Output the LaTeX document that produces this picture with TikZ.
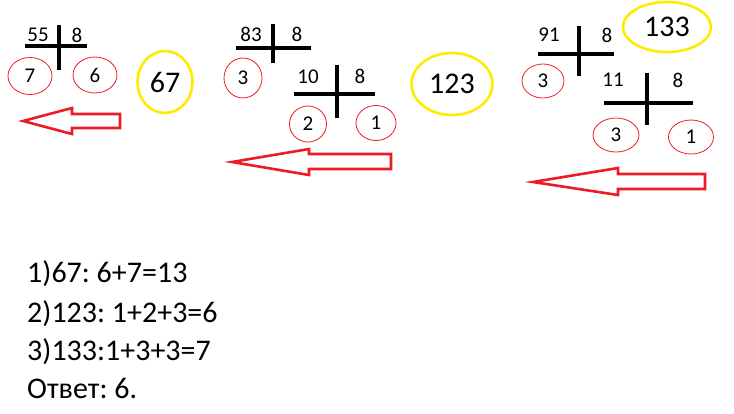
\documentclass[tikz,border=0pt]{standalone}
\usepackage{fontspec}
\setmainfont{Carlito}
\usetikzlibrary{shapes.geometric}
\definecolor{pred}{RGB}{237,28,36}
\definecolor{pyel}{RGB}{255,235,0}
\frenchspacing
\begin{document}
\begin{tikzpicture}[x=1pt,y=-1pt,
  bar/.style={line width=4pt},
  small/.style={inner sep=0pt, font=\fontsize{21}{21}\selectfont},
  rc/.style={draw=pred, line width=0.8pt, ellipse, inner sep=0pt, font=\fontsize{21}{21}\selectfont},
  yc/.style={draw=pyel, line width=2.6pt, ellipse, inner sep=0pt, font=\fontsize{30}{30}\selectfont},
  arr/.style={draw=pred, line width=2.6pt, line join=miter},
  line/.style={anchor=base west, inner sep=0pt, font=\fontsize{30}{30}\selectfont}]
\useasboundingbox (0,0) rectangle (734,413);
% group 1
\node[small] (a55) at (38,35) {55};
\node[small] (a8) at (77,35) {8};
\draw[bar] (25,46) -- (87,46);
\draw[bar] (59,25) -- (59,70);
\node[rc, minimum width=44pt, minimum height=37pt] (c7) at (30,76) {7};
\node[rc, minimum width=44pt, minimum height=36pt] (c6) at (95,75) {6};
\node[yc, minimum width=55pt, minimum height=62pt] (y67) at (165,82) {67};
\draw[arr] (23,121) -- (72,108) -- (72,114) -- (120,114) -- (120,128) -- (72,128) -- (72,134) -- cycle;
% group 2
\node[small] (b83) at (251,34) {83};
\node[small] (b8) at (297,34) {8};
\draw[bar] (236,48) -- (311,48);
\draw[bar] (273,24) -- (273,63);
\node[rc, minimum width=38pt, minimum height=40pt] (c3a) at (243,78) {3};
\node[small] (b10) at (308,77) {10};
\node[small] (b8b) at (360,76) {8};
\draw[bar] (294,94) -- (375,94);
\draw[bar] (337,65) -- (337,118);
\node[rc, minimum width=37pt, minimum height=36pt] (c2) at (308,124) {2};
\node[rc, minimum width=40pt, minimum height=35pt] (c1a) at (376,123) {1};
\node[yc, minimum width=81pt, minimum height=62pt] (y123) at (452,84) {123};
\draw[arr] (232,162) -- (309,149) -- (309,154) -- (391,154) -- (391,169) -- (309,169) -- (309,175) -- cycle;
% group 3
\node[small] (d91) at (549,35) {91};
\node[small] (d8) at (607,35) {8};
\draw[bar] (538,54) -- (614,54);
\draw[bar] (579,26) -- (579,76);
\node[rc, minimum width=42pt, minimum height=34pt] (c3b) at (543,81) {3};
\node[yc, minimum width=88pt, minimum height=50pt] (y133) at (667,27) {133};
\node[small] (d11) at (613,80) {11};
\node[small] (d8b) at (678,80) {8};
\draw[bar] (604,103) -- (693,103);
\draw[bar] (647,73) -- (647,125);
\node[rc, minimum width=46pt, minimum height=34pt] (c3c) at (616,135) {3};
\node[rc, minimum width=45pt, minimum height=34pt] (c1b) at (691,137) {1};
\draw[arr] (533,182) -- (618,168) -- (618,174) -- (705,174) -- (705,189) -- (618,189) -- (618,195) -- cycle;
% text
\node[line] (l1) at (27,282) {1)67: 6+7=13};
\node[line] (l2) at (27,322) {2)123: 1+2+3=6};
\node[line] (l3) at (27,360) {3)133:1+3+3=7};
\node[line] (l4) at (27,398) {Ответ: 6.};
\end{tikzpicture}
\end{document}
